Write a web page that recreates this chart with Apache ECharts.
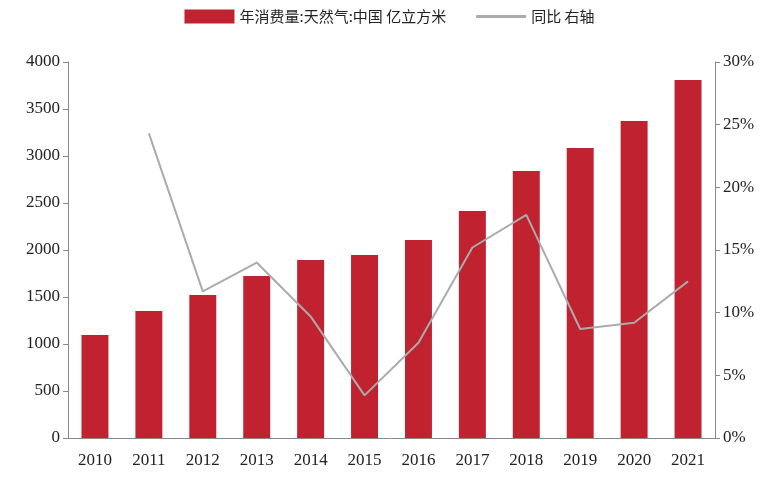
<!DOCTYPE html>
<html><head><meta charset="utf-8">
<script src="https://cdn.jsdelivr.net/npm/echarts@6/dist/echarts.min.js"></script>
<style>html,body{margin:0;padding:0;background:#fff}#c{width:779px;height:483px}</style>
</head><body><div id="c"></div>
<script>
const categories = ['2010','2011','2012','2013','2014','2015','2016','2017','2018','2019','2020','2021'];
const consumption = [1096,1351,1521,1723,1894,1947,2106,2415,2840,3085,3372,3809];
const yoy = [null,24.3,11.7,14.0,9.7,3.4,7.6,15.2,17.8,8.7,9.2,12.5];
const chart = echarts.init(document.getElementById('c'));
const font = "'Liberation Serif','Times New Roman',serif";
chart.setOption({
  animation:false,
  legend:{top:4,left:'center',itemGap:30,textStyle:{fontFamily:"'Noto Sans CJK SC'",fontSize:15,color:'#222'},
    data:[{name:'年消费量:天然气:中国 亿立方米',icon:'rect'},{name:'同比 右轴',icon:'path://M0,0H50V3H0Z'}],itemWidth:50,itemHeight:14},
  grid:{left:68,right:64,top:62,bottom:45},
  xAxis:{type:'category',data:categories,axisTick:{show:false},axisLine:{lineStyle:{color:'#888'}},
    axisLabel:{fontFamily:font,fontSize:17,color:'#222',margin:14}},
  yAxis:[
    {type:'value',min:0,max:4000,interval:500,splitLine:{show:false},axisLine:{show:true,lineStyle:{color:'#888'}},
     axisTick:{show:true,length:5,lineStyle:{color:'#888'}},axisLabel:{fontFamily:font,fontSize:17,color:'#222',formatter:v=>String(v)}},
    {type:'value',min:0,max:30,interval:5,splitLine:{show:false},axisLine:{show:true,lineStyle:{color:'#888'}},
     axisTick:{show:true,length:5,lineStyle:{color:'#888'}},axisLabel:{fontFamily:font,fontSize:17,color:'#222',formatter:'{value}%'}}
  ],
  series:[
    {name:'年消费量:天然气:中国 亿立方米',type:'bar',data:consumption,barWidth:'50%',itemStyle:{color:'#C0222F'}},
    {name:'同比 右轴',type:'line',yAxisIndex:1,data:yoy,symbol:'none',lineStyle:{color:'#ABABAB',width:2},itemStyle:{color:'#ABABAB'}}
  ]
});
</script></body></html>
